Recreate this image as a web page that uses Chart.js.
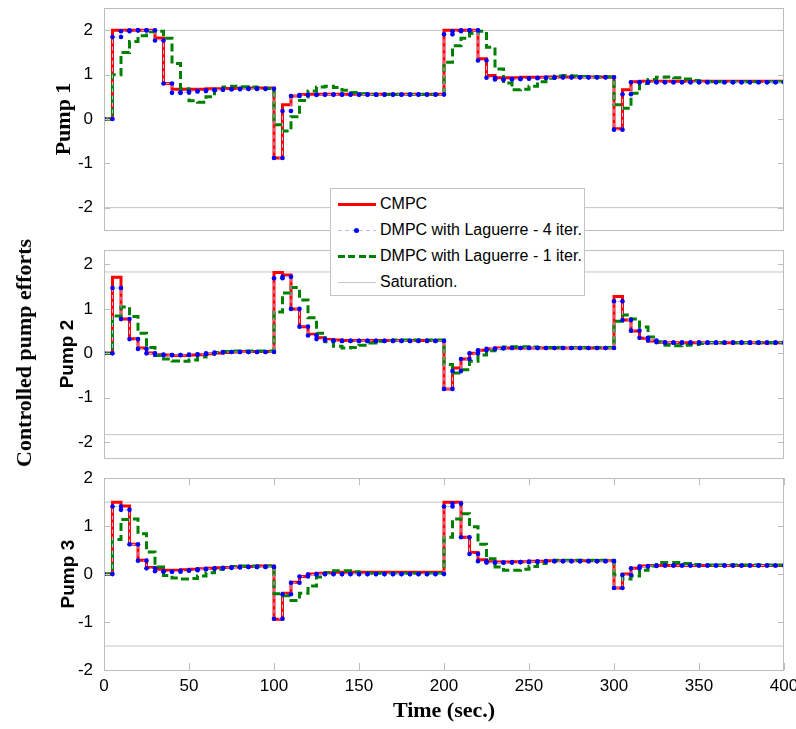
<!DOCTYPE html>
<html>
<head>
<meta charset="utf-8">
<title>Controlled pump efforts</title>
<script src="https://cdn.jsdelivr.net/npm/chart.js@4.4.1/dist/chart.umd.min.js"></script>
<style>
  html, body { margin: 0; padding: 0; background: #fff; }
  body { width: 796px; height: 729px; position: relative; overflow: hidden; }
  canvas { position: absolute; left: 0; }
  #ylabel {
    position: absolute; left: 24px; top: 353px;
    transform: translate(-50%, -50%) rotate(-90deg);
    white-space: nowrap; font: bold 22px 'Liberation Serif', 'Times New Roman', serif; color: #000;
  }
  #legend {
    position: absolute; left: 330px; top: 188px; width: 255px; height: 108px;
    box-sizing: border-box; border: 1px solid #c4c4c4; background: #fff; z-index: 5;
    font: 16px 'Liberation Sans', Arial, sans-serif; color: #000;
  }
  .item { position: absolute; left: 0; width: 100%; height: 20px; }
  .sample { position: absolute; left: 7px; width: 38px; top: 9px; }
  .label { position: absolute; left: 49px; top: 0; line-height: 20px; white-space: nowrap; }
  .s-cmpc { height: 3px; background: #ff0000; }
  .s-dmpc4 { height: 1px; top: 10px; background: repeating-linear-gradient(90deg, #b8b8ff 0 4px, transparent 4px 7px); }
  .s-dmpc4 i { position: absolute; left: 16px; top: -2px; width: 5px; height: 5px; border-radius: 50%; background: #0000ff; }
  .s-dmpc1 { height: 3px; background: repeating-linear-gradient(90deg, #008000 0 7px, transparent 7px 10.5px); }
  .s-sat { height: 1px; top: 10px; background: #c8c8c8; }
</style>
</head>
<body>
<canvas id="pump1" width="796" height="264" style="top:-13px"></canvas>
<canvas id="pump2" width="796" height="250" style="top:229px"></canvas>
<canvas id="pump3" width="796" height="272" style="top:457px"></canvas>
<div id="ylabel">Controlled pump efforts</div>
<div id="legend">
  <div class="item" style="top:5px"><div class="sample s-cmpc"></div><span class="label">CMPC</span></div>
  <div class="item" style="top:31px"><div class="sample s-dmpc4"><i></i></div><span class="label">DMPC with Laguerre - 4 iter.</span></div>
  <div class="item" style="top:57px"><div class="sample s-dmpc1"></div><span class="label">DMPC with Laguerre - 1 iter.</span></div>
  <div class="item" style="top:83px"><div class="sample s-sat"></div><span class="label">Saturation.</span></div>
</div>
<script>
// Sampling period of the controllers (s); each value is held for one period.
const samplePeriod = 5;
const timeTicks = [0, 50, 100, 150, 200, 250, 300, 350, 400];
const seriesNames = ['CMPC', 'DMPC with Laguerre - 4 iter.', 'DMPC with Laguerre - 1 iter.', 'Saturation.'];
const pumpNames = ['Pump 1', 'Pump 2', 'Pump 3'];
const saturationLimits = [2, 1.83, 1.5];
const yTicksPump = [-2, -1, 0, 1, 2];

// Pump 1 control moves, t = 0 .. 395 s
const p1Cmpc = [
  0, 2, 2, 2, 2, 2, 1.83, 0.80, 0.67, 0.67, 0.67, 0.67, 0.68, 0.68, 0.69, 0.69, 0.70, 0.70, 0.70, 0.70,
  -0.88, 0.32, 0.52, 0.55, 0.56, 0.56, 0.56, 0.56, 0.56, 0.56, 0.56, 0.56, 0.56, 0.56, 0.56, 0.56, 0.56, 0.56, 0.56, 0.56,
  2, 2, 2, 2, 1.36, 0.98, 0.93, 0.93, 0.93, 0.94, 0.94, 0.94, 0.95, 0.95, 0.95, 0.95, 0.95, 0.95, 0.95, 0.95,
  -0.22, 0.66, 0.84, 0.85, 0.85, 0.85, 0.85, 0.85, 0.85, 0.85, 0.85, 0.85, 0.85, 0.85, 0.85, 0.85, 0.85, 0.85, 0.85, 0.85
];
const p1Dmpc4 = [
  0, 1.85, 1.98, 2, 2, 2, 1.77, 0.80, 0.59, 0.60, 0.62, 0.63, 0.65, 0.66, 0.67, 0.67, 0.68, 0.68, 0.68, 0.68,
  -0.88, 0.18, 0.52, 0.54, 0.54, 0.55, 0.55, 0.55, 0.55, 0.55, 0.55, 0.55, 0.55, 0.55, 0.55, 0.55, 0.55, 0.55, 0.55, 0.55,
  1.91, 1.98, 2, 2, 1.32, 0.93, 0.89, 0.89, 0.90, 0.91, 0.92, 0.93, 0.93, 0.94, 0.94, 0.94, 0.94, 0.94, 0.94, 0.94,
  -0.24, 0.56, 0.83, 0.83, 0.83, 0.83, 0.83, 0.83, 0.83, 0.83, 0.83, 0.83, 0.83, 0.83, 0.83, 0.83, 0.83, 0.83, 0.83, 0.83
];
const p1Dmpc1 = [
  0, 1.00, 1.50, 1.75, 1.88, 1.97, 1.98, 1.82, 1.25, 0.68, 0.41, 0.38, 0.50, 0.65, 0.72, 0.74, 0.73, 0.72, 0.70, 0.69,
  -0.13, -0.27, 0.05, 0.42, 0.63, 0.72, 0.74, 0.71, 0.65, 0.60, 0.57, 0.55, 0.54, 0.55, 0.55, 0.55, 0.55, 0.55, 0.55, 0.55,
  1.28, 1.65, 1.82, 1.93, 1.98, 1.62, 1.13, 0.81, 0.66, 0.67, 0.74, 0.84, 0.92, 0.97, 0.98, 0.97, 0.96, 0.95, 0.95, 0.95,
  0.32, 0.24, 0.58, 0.80, 0.89, 0.94, 0.95, 0.93, 0.90, 0.87, 0.85, 0.84, 0.84, 0.84, 0.84, 0.84, 0.84, 0.84, 0.84, 0.84
];

// Pump 2 control moves
const p2Cmpc = [
  0, 1.71, 0.77, 0.33, 0.12, 0.01, -0.03, -0.04, -0.05, -0.05, -0.04, -0.03, -0.01, 0.01, 0.02, 0.03, 0.04, 0.04, 0.04, 0.04,
  1.82, 1.76, 1.00, 0.60, 0.43, 0.35, 0.31, 0.30, 0.29, 0.29, 0.29, 0.29, 0.29, 0.29, 0.29, 0.29, 0.29, 0.29, 0.29, 0.29,
  -0.80, -0.33, -0.13, 0.00, 0.07, 0.10, 0.12, 0.12, 0.12, 0.12, 0.12, 0.12, 0.12, 0.12, 0.12, 0.12, 0.12, 0.12, 0.12, 0.12,
  1.28, 0.75, 0.50, 0.34, 0.28, 0.25, 0.24, 0.24, 0.24, 0.24, 0.24, 0.24, 0.24, 0.24, 0.24, 0.24, 0.24, 0.24, 0.24, 0.24
];
const p2Dmpc4 = [
  0, 1.47, 0.77, 0.32, 0.10, 0.00, -0.03, -0.04, -0.04, -0.04, -0.03, -0.02, 0.00, 0.02, 0.03, 0.03, 0.03, 0.03, 0.03, 0.03,
  1.69, 1.72, 1.00, 0.60, 0.40, 0.32, 0.29, 0.28, 0.28, 0.28, 0.28, 0.28, 0.28, 0.28, 0.28, 0.28, 0.28, 0.28, 0.28, 0.28,
  -0.80, -0.40, -0.13, 0.00, 0.07, 0.10, 0.11, 0.12, 0.12, 0.12, 0.12, 0.12, 0.12, 0.12, 0.12, 0.12, 0.12, 0.12, 0.12, 0.12,
  1.17, 0.75, 0.51, 0.35, 0.29, 0.25, 0.24, 0.24, 0.24, 0.24, 0.24, 0.24, 0.24, 0.24, 0.24, 0.24, 0.24, 0.24, 0.24, 0.24
];
const p2Dmpc1 = [
  0, 0.84, 1.04, 0.83, 0.45, 0.13, -0.05, -0.13, -0.17, -0.18, -0.15, -0.08, -0.02, 0.02, 0.04, 0.05, 0.05, 0.05, 0.05, 0.05,
  0.93, 1.36, 1.48, 1.20, 0.80, 0.45, 0.26, 0.16, 0.12, 0.13, 0.18, 0.23, 0.27, 0.29, 0.30, 0.30, 0.30, 0.30, 0.30, 0.30,
  -0.25, -0.44, -0.37, -0.18, -0.04, 0.06, 0.11, 0.14, 0.15, 0.15, 0.14, 0.13, 0.13, 0.13, 0.13, 0.13, 0.13, 0.13, 0.13, 0.13,
  0.72, 0.86, 0.77, 0.59, 0.37, 0.26, 0.18, 0.17, 0.18, 0.20, 0.22, 0.24, 0.24, 0.24, 0.24, 0.24, 0.24, 0.24, 0.24, 0.24
];

// Pump 3 control moves
const p3Cmpc = [
  0, 1.50, 1.42, 0.62, 0.29, 0.14, 0.10, 0.08, 0.08, 0.09, 0.10, 0.11, 0.12, 0.13, 0.14, 0.15, 0.16, 0.16, 0.17, 0.17,
  -0.94, -0.40, -0.17, -0.05, 0.00, 0.02, 0.03, 0.04, 0.04, 0.04, 0.04, 0.04, 0.04, 0.04, 0.04, 0.04, 0.04, 0.04, 0.04, 0.04,
  1.50, 1.50, 0.77, 0.45, 0.30, 0.26, 0.25, 0.25, 0.26, 0.26, 0.27, 0.27, 0.28, 0.28, 0.28, 0.28, 0.28, 0.28, 0.28, 0.28,
  -0.29, 0.00, 0.12, 0.17, 0.18, 0.18, 0.18, 0.18, 0.18, 0.18, 0.18, 0.18, 0.18, 0.18, 0.18, 0.18, 0.18, 0.18, 0.18, 0.18
];
const p3Dmpc4 = [
  0, 1.41, 1.34, 0.62, 0.28, 0.12, 0.06, 0.05, 0.05, 0.07, 0.08, 0.10, 0.11, 0.12, 0.13, 0.14, 0.15, 0.15, 0.15, 0.15,
  -0.93, -0.42, -0.18, -0.05, -0.01, 0.00, 0.00, 0.00, 0.00, 0.00, 0.00, 0.00, 0.00, 0.00, 0.00, 0.00, 0.00, 0.00, 0.00, 0.00,
  1.41, 1.47, 0.77, 0.42, 0.27, 0.24, 0.24, 0.24, 0.25, 0.25, 0.26, 0.26, 0.27, 0.27, 0.27, 0.27, 0.27, 0.27, 0.27, 0.27,
  -0.29, -0.02, 0.12, 0.16, 0.17, 0.18, 0.18, 0.18, 0.18, 0.18, 0.18, 0.18, 0.18, 0.18, 0.18, 0.18, 0.18, 0.18, 0.18, 0.18
];
const p3Dmpc1 = [
  0, 0.72, 1.14, 1.15, 0.84, 0.46, 0.15, -0.03, -0.08, -0.10, -0.09, -0.04, 0.03, 0.10, 0.14, 0.16, 0.17, 0.17, 0.17, 0.17,
  -0.41, -0.45, -0.55, -0.40, -0.25, -0.06, 0.03, 0.07, 0.07, 0.05, 0.03, 0.02, 0.02, 0.02, 0.02, 0.02, 0.02, 0.02, 0.02, 0.02,
  0.77, 1.15, 1.26, 0.99, 0.62, 0.32, 0.15, 0.08, 0.08, 0.10, 0.16, 0.22, 0.27, 0.29, 0.29, 0.29, 0.29, 0.29, 0.29, 0.29,
  -0.02, -0.10, -0.04, 0.08, 0.17, 0.24, 0.24, 0.24, 0.22, 0.20, 0.19, 0.19, 0.19, 0.19, 0.19, 0.19, 0.19, 0.19, 0.19, 0.19
];

const sampleTimes = p1Cmpc.map((_, k) => k * samplePeriod);
const tEnd = timeTicks[timeTicks.length - 1];

// Zero-order-hold staircase: one vertex at each end of every held value.
function stairPoints(values) {
  const pts = [];
  values.forEach((v, k) => {
    pts.push({ x: sampleTimes[k], y: v });
    pts.push({ x: sampleTimes[k] + samplePeriod, y: v });
  });
  return pts;
}

const sansFont = "'Liberation Sans', Arial, sans-serif";
const serifFont = "'Liberation Serif', 'Times New Roman', serif";

// Axes box with inward tick marks drawn on top of the traces.
const framePlugin = {
  id: 'frame',
  afterDatasetsDraw(chart, args, opts) {
    const { ctx, chartArea: a, scales: { x, y } } = chart;
    ctx.save();
    ctx.strokeStyle = '#bdbdbd';
    ctx.lineWidth = 1;
    ctx.beginPath();
    y.ticks.forEach(t => {
      const py = Math.round(y.getPixelForValue(t.value)) + 0.5;
      ctx.moveTo(a.left, py); ctx.lineTo(a.left + 6, py);
      ctx.moveTo(a.right, py); ctx.lineTo(a.right - 6, py);
    });
    if (opts.xTicks) {
      x.ticks.forEach(t => {
        const px = Math.round(x.getPixelForValue(t.value)) + 0.5;
        ctx.moveTo(px, a.top); ctx.lineTo(px, a.top + 7);
        ctx.moveTo(px, a.bottom); ctx.lineTo(px, a.bottom - 7);
      });
    }
    ctx.stroke();
    ctx.strokeRect(Math.round(a.left) + 0.5, Math.round(a.top) + 0.5, Math.round(a.width) - 1, Math.round(a.height));
    ctx.restore();
  }
};

function makePumpChart(canvasId, name, series, satLimit, yMin, yMax, opts) {
  const sat = [{ x: 0, y: satLimit }, { x: tEnd, y: satLimit }];
  const satNeg = [{ x: 0, y: -satLimit }, { x: tEnd, y: -satLimit }];
  return new Chart(document.getElementById(canvasId), {
    type: 'line',
    data: {
      datasets: [
        { label: seriesNames[0], data: stairPoints(series[0]), order: 2,
          borderColor: '#ff0000', borderWidth: 3, pointRadius: 0, borderJoinStyle: 'miter' },
        { label: seriesNames[1], data: stairPoints(series[1]), order: 0,
          borderColor: '#b8b8ff', borderWidth: 1, borderDash: [4, 3],
          pointRadius: 2.3, pointBackgroundColor: '#0000ff', pointBorderWidth: 0, pointBorderColor: '#0000ff' },
        { label: seriesNames[2], data: stairPoints(series[2]), order: 1,
          borderColor: '#008000', borderWidth: 3, borderDash: [8, 4], pointRadius: 0, borderJoinStyle: 'miter' },
        { label: seriesNames[3], data: sat, order: 3, borderColor: '#c4c4c4', borderWidth: 1, pointRadius: 0 },
        { label: seriesNames[3], data: satNeg, order: 3, borderColor: '#c4c4c4', borderWidth: 1, pointRadius: 0 }
      ]
    },
    options: {
      responsive: false,
      animation: false,
      devicePixelRatio: 1,
      events: [],
      layout: { padding: { left: 0, right: 12, top: 20, bottom: opts.padBottom } },
      plugins: {
        legend: { display: false },
        tooltip: { enabled: false },
        frame: { xTicks: opts.showX }
      },
      scales: {
        x: {
          type: 'linear', min: 0, max: tEnd,
          display: opts.showX,
          afterBuildTicks: s => { s.ticks = timeTicks.map(v => ({ value: v })); },
          afterFit: s => {
            if (opts.showX) s.height = 59;
            // let the last tick label run past the plot edge
            s.paddingLeft = 0; s.paddingRight = 0;
          },
          grid: { display: false, drawTicks: false, tickLength: 0 },
          border: { display: false },
          ticks: { color: '#000', padding: 6, maxRotation: 0, font: { family: sansFont, size: 17 } },
          title: { display: opts.showX, text: 'Time (sec.)', color: '#000',
                   font: { family: serifFont, size: 22, weight: 'bold' }, padding: { top: 0, bottom: 4 } }
        },
        y: {
          type: 'linear', min: yMin, max: yMax,
          afterBuildTicks: s => { s.ticks = yTicksPump.map(v => ({ value: v })); },
          afterFit: s => { s.width = 104; },
          grid: { display: false, drawTicks: false, tickLength: 0 },
          border: { display: false },
          ticks: { color: '#000', padding: 11, font: { family: sansFont, size: 17 } },
          title: { display: true, text: name, color: '#000', font: opts.titleFont,
                   padding: { top: opts.titleOffset, bottom: 0 } }
        }
      }
    },
    plugins: [framePlugin]
  });
}

makePumpChart('pump1', pumpNames[0], [p1Cmpc, p1Dmpc4, p1Dmpc1], saturationLimits[0], -2.5, 2.5,
  { showX: false, padBottom: 20, titleOffset: 51, titleFont: { family: serifFont, size: 22, weight: 'bold' } });
makePumpChart('pump2', pumpNames[1], [p2Cmpc, p2Dmpc4, p2Dmpc1], saturationLimits[1], -2.35, 2.32,
  { showX: false, padBottom: 20, titleOffset: 56, titleFont: { family: sansFont, size: 19, weight: 'bold' } });
makePumpChart('pump3', pumpNames[2], [p3Cmpc, p3Dmpc4, p3Dmpc1], saturationLimits[2], -2, 2,
  { showX: true, padBottom: 0, titleOffset: 57, titleFont: { family: sansFont, size: 19, weight: 'bold' } });
</script>
</body>
</html>
